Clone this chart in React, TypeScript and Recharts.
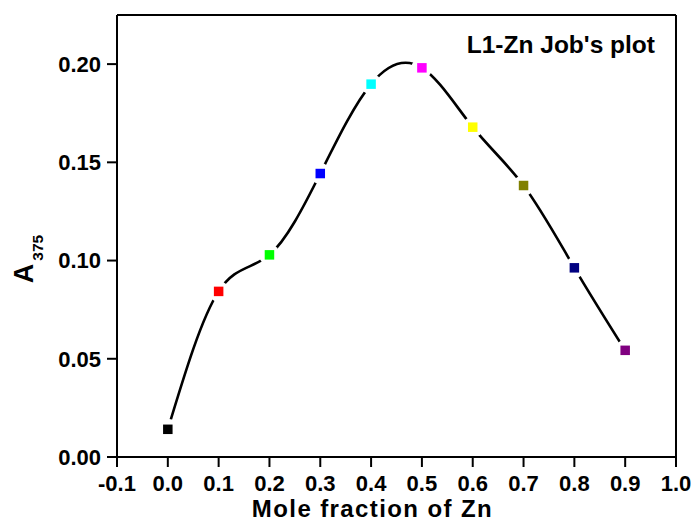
import React from 'react';
import { ComposedChart, Line, XAxis, YAxis, Label } from 'recharts';

const moleFraction = [0.0, 0.1, 0.2, 0.3, 0.4, 0.5, 0.6, 0.7, 0.8, 0.9];
const absorbance = [0.0141, 0.0843, 0.1029, 0.1443, 0.1898, 0.1981, 0.1679, 0.1382, 0.0963, 0.0543];
const markerColors = ['#000000', '#FF0000', '#00FF00', '#0000FF', '#00FFFF', '#FF00FF', '#FFFF00', '#808000', '#000080', '#800080'];

const xMajorTicks = [-0.1, 0.0, 0.1, 0.2, 0.3, 0.4, 0.5, 0.6, 0.7, 0.8, 0.9, 1.0];
const xMinorTicks = [-0.05, 0.05, 0.15, 0.25, 0.35, 0.45, 0.55, 0.65, 0.75, 0.85, 0.95];
const yMajorTicks = [0.0, 0.05, 0.1, 0.15, 0.2];
const yMinorTicks = [0.025, 0.075, 0.125, 0.175, 0.225];

const xTitle = 'Mole fraction of Zn';
const yTitleMain = 'A';
const yTitleSub = '375';
const plotTitle = "L1-Zn Job's plot";

const data = moleFraction.map((x, i) => ({ x, y: absorbance[i], color: markerColors[i] }));

const FONT = '"Liberation Sans", Arial, Helvetica, sans-serif';
const tickStyle = { fontSize: 22, fontWeight: 700, fill: '#000', fontFamily: FONT };
const lineStyle = { stroke: '#000', strokeWidth: 2 };
const TINY = 0.001;

const Marker = (props: any) => {
  const { cx, cy, payload, index } = props;
  if (cx == null || cy == null) return null;
  return (
    <g key={`m-${index}`}>
      <circle cx={cx} cy={cy} r={10.5} fill="#fff" />
      <rect x={cx - 4.75} y={cy - 4.75} width={9.5} height={9.5} fill={payload.color} />
    </g>
  );
};

const YTitle = (props: any) => {
  const vb = props.viewBox || {};
  const cx = vb.x - 84;
  const cy = vb.y + vb.height / 2 + 23;
  return (
    <text
      x={cx}
      y={cy}
      transform={`rotate(-90, ${cx}, ${cy})`}
      textAnchor="middle"
      fontFamily={FONT}
      fontWeight={700}
      fill="#000"
    >
      <tspan fontSize={27}>{yTitleMain}</tspan>
      <tspan fontSize={15.5} dx={3} dy={10}>{yTitleSub}</tspan>
    </text>
  );
};

export default function App() {
  return (
    <div style={{ position: 'absolute', left: 0, top: 0, width: 699, height: 523, background: '#fff' }}>
      <ComposedChart
        width={699}
        height={523}
        data={data}
        margin={{ top: 15, right: 23, bottom: 66, left: 117 }}
      >
        <XAxis
          xAxisId="minor"
          type="number"
          dataKey="x"
          domain={[-0.1, 1.0]}
          ticks={xMinorTicks}
          allowDataOverflow
          height={TINY}
          tick={false}
          tickSize={6}
          tickLine={lineStyle}
          axisLine={lineStyle}
        />
        <XAxis
          xAxisId="main"
          type="number"
          dataKey="x"
          domain={[-0.1, 1.0]}
          ticks={xMajorTicks}
          allowDataOverflow
          interval={0}
          height={TINY}
          tickSize={10}
          tickMargin={8}
          tick={tickStyle}
          tickLine={lineStyle}
          axisLine={lineStyle}
          tickFormatter={(v: number) => v.toFixed(1)}
        >
          <Label
            value={xTitle}
            position="bottom"
            offset={43}
            dx={-24}
            style={{ fontSize: 24, fontWeight: 700, fill: '#000', fontFamily: FONT, letterSpacing: 1.4 }}
          />
        </XAxis>
        <XAxis
          xAxisId="top"
          orientation="top"
          type="number"
          dataKey="x"
          domain={[-0.1, 1.0]}
          allowDataOverflow
          height={TINY}
          tick={false}
          tickLine={false}
          axisLine={lineStyle}
        >
          <Label
            value={plotTitle}
            position="insideTopRight"
            offset={21}
            style={{ fontSize: 24.5, fontWeight: 700, fill: '#000', fontFamily: FONT }}
          />
        </XAxis>
        <YAxis
          yAxisId="minor"
          type="number"
          domain={[0, 0.225]}
          ticks={yMinorTicks}
          allowDataOverflow
          width={TINY}
          tick={false}
          tickSize={4}
          tickLine={lineStyle}
          axisLine={lineStyle}
        />
        <YAxis
          yAxisId="main"
          type="number"
          domain={[0, 0.225]}
          ticks={yMajorTicks}
          allowDataOverflow
          interval={0}
          width={TINY}
          tickSize={10}
          tickMargin={6}
          tick={tickStyle}
          tickLine={lineStyle}
          axisLine={lineStyle}
          tickFormatter={(v: number) => v.toFixed(2)}
        >
          <Label content={<YTitle />} />
        </YAxis>
        <YAxis
          yAxisId="right"
          orientation="right"
          type="number"
          domain={[0, 0.225]}
          allowDataOverflow
          width={TINY}
          tick={false}
          tickLine={false}
          axisLine={lineStyle}
        />
        <Line
          xAxisId="main"
          yAxisId="main"
          type="natural"
          dataKey="y"
          stroke="#000"
          strokeWidth={2.6}
          dot={<Marker />}
          activeDot={false}
          isAnimationActive={false}
        />
      </ComposedChart>
    </div>
  );
}
